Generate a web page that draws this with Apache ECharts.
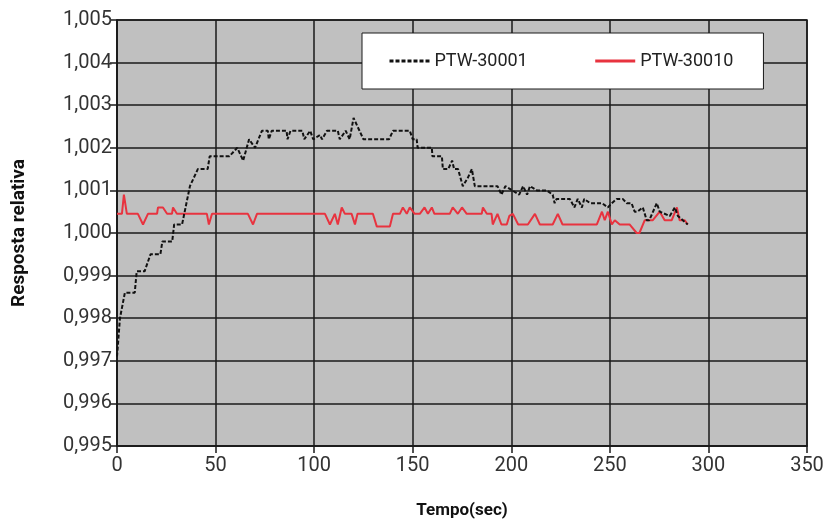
<!DOCTYPE html>
<html>
<head>
<meta charset="utf-8">
<script src="https://cdn.jsdelivr.net/npm/echarts@6/dist/echarts.min.js"></script>
<style>
  html, body { margin: 0; padding: 0; background: #fff; }
  #main { width: 825px; height: 523px; }
</style>
</head>
<body>
<div id="main"></div>
<script>
// PTW-30001 (tracejado preto)
var tempo30001 = [0, 1.5, 4, 9, 10, 14, 17, 22, 23, 28, 29, 33, 37, 41, 46, 47, 57, 61, 64, 67,
  70, 73.5, 76.5, 77, 78.5, 86, 86.5, 88, 94, 95, 98, 99.5, 103, 104, 106.5, 112, 113, 116, 118, 120,
  123, 125, 138, 140, 148.5, 150, 152, 152.5, 159.7, 160, 164.8, 165.3, 168, 170, 171, 173, 175.4, 178, 180, 181.5,
  193, 195, 197, 204, 206, 208, 209.5, 213, 218, 221, 222, 223, 229.7, 232, 233.7, 235.8, 237, 240, 246, 249,
  251, 253.5, 256.5, 258.6, 261, 262.6, 264, 266.7, 268.7, 270, 273.8, 275.3, 280.4, 283, 284.5, 287, 289.5];
var resp30001 = [0.9971, 0.9980, 0.9986, 0.9986, 0.9991, 0.9991, 0.9995, 0.9995, 0.9998, 0.9998,
  1.0002, 1.0002, 1.0011, 1.0015, 1.0015, 1.0018, 1.0018, 1.0020, 1.0017, 1.0022,
  1.0020, 1.0024, 1.0024, 1.0022, 1.0024, 1.0024, 1.0022, 1.0024, 1.0024, 1.0022,
  1.0024, 1.0022, 1.0023, 1.0022, 1.0024, 1.0024, 1.0022, 1.0024, 1.0022, 1.0027,
  1.0024, 1.0022, 1.0022, 1.0024, 1.0024, 1.0022, 1.0022, 1.0020, 1.0020, 1.0018,
  1.0018, 1.0015, 1.0015, 1.0017, 1.0015, 1.0015, 1.0011, 1.0013, 1.0015, 1.0011,
  1.0011, 1.0009, 1.0011, 1.0009, 1.0011, 1.0009, 1.0011, 1.0010, 1.0010, 1.0009,
  1.0007, 1.0008, 1.0008, 1.0006, 1.0008, 1.0006, 1.0008, 1.0007, 1.0007, 1.0006,
  1.0007, 1.0008, 1.0008, 1.0007, 1.0007, 1.0005, 1.0005, 1.0006, 1.0003, 1.0003,
  1.0007, 1.0005, 1.0004, 1.0006, 1.0004, 1.0003, 1.0002];

// PTW-30010 (linha vermelha)
var tempo30010 = [0, 2.5, 3.5, 5, 10.6, 13.2, 15.7, 20.3, 20.8, 23.3, 25.4, 27.9, 28.4, 30.4, 45.6, 46.6, 48.2, 66.4, 69, 71,
  105.5, 108, 110.5, 112, 114, 115.6, 119, 120.7, 122, 129.8, 131.8, 138.4, 140, 143.5, 145, 147, 148.5, 151, 153.6, 156,
  157.7, 159.7, 161, 168.8, 170.3, 172.9, 175, 177.4, 185, 185.6, 187.6, 190, 190.6, 193, 195, 197.7, 199, 200.8, 203.5, 208.4,
  212, 214.5, 221, 223.6, 226, 243.4, 246, 247.4, 249, 251, 252.5, 255, 260, 263.6, 265, 267.7, 271.8, 275.3, 277.8, 281.4,
  284, 285.4, 288, 289.5];
var resp30010 = [1.00045, 1.00045, 1.0009, 1.00045, 1.00045, 1.0002, 1.00045, 1.00045, 1.0006, 1.0006,
  1.00045, 1.00045, 1.0006, 1.00045, 1.00045, 1.0002, 1.00045, 1.00045, 1.0002, 1.00045,
  1.00045, 1.0002, 1.00045, 1.0002, 1.0006, 1.00045, 1.00045, 1.0002, 1.00045, 1.00045,
  1.00015, 1.00015, 1.00045, 1.00045, 1.0006, 1.00045, 1.0006, 1.00045, 1.00045, 1.0006,
  1.00045, 1.0006, 1.00045, 1.00045, 1.0006, 1.00045, 1.0006, 1.00045, 1.00045, 1.0006,
  1.00045, 1.00045, 1.0002, 1.00045, 1.0002, 1.0002, 1.0004, 1.00045, 1.0002, 1.0002,
  1.00045, 1.0002, 1.0002, 1.00045, 1.0002, 1.0002, 1.0005, 1.0003, 1.0005, 1.0002,
  1.0003, 1.0002, 1.0002, 1.0000, 1.0000, 1.0003, 1.0003, 1.0005, 1.0003, 1.0003,
  1.0006, 1.0003, 1.0003, 1.0002];

var nomes = ['PTW-30001', 'PTW-30010'];

function pares(xs, ys) {
  return xs.map(function (x, i) { return [x, ys[i]]; });
}

var myChart = echarts.init(document.getElementById('main'));
var fonte = 'Roboto';

var option = {
  animation: false,
  backgroundColor: '#fff',
  grid: {
    left: 117, right: 18, top: 20, bottom: 77,
    outerBoundsMode: 'none',
    containLabel: false,
    show: true,
    backgroundColor: '#c0c0c0',
    borderColor: '#1a1a1a',
    borderWidth: 1.5
  },
  legend: {
    data: nomes,
    left: 362,
    top: 33,
    backgroundColor: '#fff',
    borderColor: '#1a1a1a',
    borderWidth: 1,
    borderRadius: 0,
    padding: [19, 30, 19, 26],
    itemGap: 66,
    itemWidth: 40,
    itemHeight: 14,
    itemStyle: { opacity: 0 },
    lineStyle: { width: 3 },
    textStyle: { fontFamily: fonte, fontSize: 18, color: '#222' }
  },
  xAxis: {
    type: 'value',
    min: 0, max: 350, interval: 50,
    name: 'Tempo(sec)',
    nameLocation: 'middle',
    nameGap: 56,
    nameTextStyle: { fontFamily: fonte, fontWeight: 'bold', fontSize: 17, color: '#111' },
    axisLine: { show: true, lineStyle: { color: '#1a1a1a', width: 1.5 } },
    axisTick: { show: true, length: 7, lineStyle: { color: '#1a1a1a', width: 1.5 } },
    axisLabel: { fontFamily: fonte, fontSize: 20, color: '#333', margin: 10 },
    splitLine: { show: true, lineStyle: { color: '#1a1a1a', width: 1.5 } }
  },
  yAxis: {
    type: 'value',
    min: 0.995, max: 1.005, interval: 0.001,
    name: 'Resposta relativa',
    nameLocation: 'middle',
    nameGap: 88,
    nameTextStyle: { fontFamily: fonte, fontWeight: 'bold', fontSize: 19, color: '#111' },
    axisLine: { show: true, lineStyle: { color: '#1a1a1a', width: 1.5 } },
    axisTick: { show: true, length: 7, lineStyle: { color: '#1a1a1a', width: 1.5 } },
    axisLabel: {
      fontFamily: fonte, fontSize: 20, color: '#333', margin: 5,
      formatter: function (v) { return v.toFixed(3).replace('.', ','); }
    },
    splitLine: { show: true, lineStyle: { color: '#1a1a1a', width: 1.5 } }
  },
  series: [
    {
      name: nomes[0],
      type: 'line',
      data: pares(tempo30001, resp30001),
      symbol: 'none',
      lineStyle: { color: '#111', width: 2, type: [4, 2] },
      itemStyle: { color: '#111' },
      z: 3
    },
    {
      name: nomes[1],
      type: 'line',
      data: pares(tempo30010, resp30010),
      symbol: 'none',
      lineStyle: { color: '#e8333f', width: 2 },
      itemStyle: { color: '#e8333f' },
      z: 2
    }
  ]
};

myChart.setOption(option);
</script>
</body>
</html>
